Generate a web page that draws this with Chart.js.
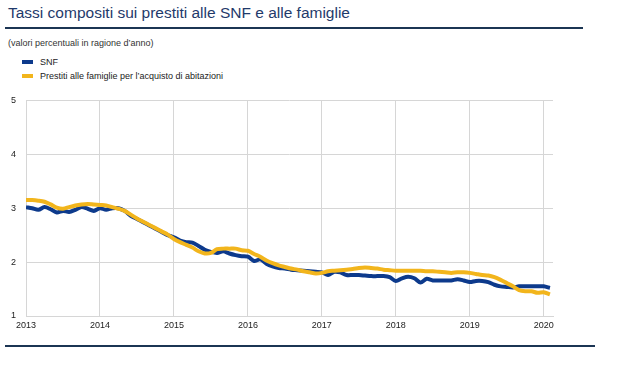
<!DOCTYPE html>
<html>
<head>
<meta charset="utf-8">
<script src="https://cdn.jsdelivr.net/npm/chart.js@4.4.1/dist/chart.umd.min.js"></script>
<style>
  html, body { margin: 0; padding: 0; background: #ffffff; }
  body { width: 636px; height: 367px; position: relative; overflow: hidden; font-family: "Liberation Sans", Arial, sans-serif; }
  #title { position: absolute; left: 8px; top: 4px; font-size: 15.5px; color: #1f3a6b; white-space: nowrap; }
  #rule1 { position: absolute; left: 5px; top: 27px; width: 578px; height: 2px; background: #1b3553; }
  #sub { position: absolute; left: 8px; top: 38px; font-size: 9px; color: #333; white-space: nowrap; }
  #legend { position: absolute; left: 22px; top: 56px; font-size: 9px; color: #222; }
  .li { height: 14px; line-height: 12px; white-space: nowrap; }
  .sw { display: inline-block; width: 11px; height: 4px; vertical-align: middle; margin-right: 7px; position: relative; top: -1px; }
  #wrap { position: absolute; left: 0; top: 85px; width: 600px; height: 250px; }
  #rule2 { position: absolute; left: 5px; top: 345px; width: 590px; height: 2px; background: #1b3553; }
</style>
</head>
<body>
<div id="title">Tassi compositi sui prestiti alle SNF e alle famiglie</div>
<div id="rule1"></div>
<div id="sub">(valori percentuali in ragione d’anno)</div>
<div id="legend"></div>
<div id="wrap"><canvas id="c"></canvas></div>
<div id="rule2"></div>
<script>
// Monthly observations, Jan 2013 .. Feb 2020
const startYear = 2013;
const yearLabels = ["2013","2014","2015","2016","2017","2018","2019","2020"];
const yTicks = [1, 2, 3, 4, 5];
const seriesNames = ["SNF", "Prestiti alle famiglie per l’acquisto di abitazioni"];

const snf = [
  3.02, 3.00, 2.97, 3.02, 2.98, 2.92, 2.95, 2.93, 2.97, 3.02, 2.99, 2.95,
  3.00, 2.97, 3.00, 3.00, 2.95, 2.86, 2.80, 2.74, 2.68, 2.62, 2.56, 2.50,
  2.46, 2.40, 2.37, 2.36, 2.30, 2.23, 2.19, 2.17, 2.20, 2.16, 2.13, 2.11,
  2.10, 2.02, 2.05, 1.97, 1.92, 1.89, 1.88, 1.86, 1.85, 1.84, 1.83, 1.82,
  1.81, 1.76, 1.82, 1.81, 1.76, 1.76, 1.76, 1.75, 1.74, 1.74, 1.74, 1.72,
  1.65, 1.70, 1.73, 1.70, 1.62, 1.69, 1.66, 1.66, 1.66, 1.66, 1.68, 1.66,
  1.63, 1.65, 1.65, 1.63, 1.58, 1.55, 1.54, 1.53, 1.55, 1.55, 1.55, 1.55,
  1.55, 1.52
];
const famiglie = [
  3.15, 3.15, 3.14, 3.12, 3.07, 3.01, 2.99, 3.02, 3.05, 3.07, 3.08, 3.07,
  3.06, 3.05, 3.02, 2.99, 2.95, 2.88, 2.81, 2.75, 2.69, 2.63, 2.57, 2.51,
  2.43, 2.37, 2.32, 2.27, 2.20, 2.16, 2.17, 2.24, 2.25, 2.25, 2.25, 2.22,
  2.21, 2.15, 2.10, 2.03, 1.98, 1.94, 1.91, 1.88, 1.86, 1.83, 1.81, 1.79,
  1.80, 1.83, 1.84, 1.85, 1.86, 1.87, 1.89, 1.90, 1.89, 1.88, 1.86, 1.85,
  1.84, 1.84, 1.84, 1.84, 1.84, 1.83, 1.83, 1.82, 1.81, 1.80, 1.81, 1.81,
  1.80, 1.78, 1.76, 1.75, 1.72, 1.67, 1.61, 1.55, 1.48, 1.46, 1.46, 1.43,
  1.44, 1.40
];
const colors = ["#0d3a8c", "#f2b51c"];

const toPoints = arr => arr.map((v, i) => ({ x: i, y: v }));

// HTML legend from series names/colors
const lg = document.getElementById('legend');
seriesNames.forEach((n, i) => {
  const d = document.createElement('div');
  d.className = 'li';
  d.innerHTML = '<span class="sw" style="background:' + colors[i] + '"></span>';
  d.appendChild(document.createTextNode(n));
  lg.appendChild(d);
});

new Chart(document.getElementById('c'), {
  type: 'line',
  data: {
    datasets: [
      { label: seriesNames[0], data: toPoints(snf), borderColor: colors[0], backgroundColor: colors[0], borderWidth: 4, pointRadius: 0, tension: 0.3, order: 2 },
      { label: seriesNames[1], data: toPoints(famiglie), borderColor: colors[1], backgroundColor: colors[1], borderWidth: 4, pointRadius: 0, tension: 0.3, order: 1 }
    ]
  },
  options: {
    responsive: true,
    maintainAspectRatio: false,
    animation: false,
    layout: { padding: { left: 0, right: 47, top: 10, bottom: 0 } },
    plugins: { legend: { display: false }, tooltip: { enabled: false } },
    scales: {
      x: {
        type: 'linear',
        min: 0, max: 85.5,
        afterBuildTicks: ax => { ax.ticks = yearLabels.map((_, i) => ({ value: i * 12 })); },
        afterFit: ax => { ax.height = 19; },
        ticks: {
          autoSkip: false, maxRotation: 0,
          color: '#222', font: { family: 'Liberation Sans', size: 9 }, padding: 4,
          callback: v => yearLabels[Math.round(v / 12)]
        },
        grid: { color: '#d6d6d6', lineWidth: 1, drawTicks: false },
        border: { color: '#d6d6d6' }
      },
      y: {
        min: 1, max: 5,
        afterBuildTicks: ax => { ax.ticks = yTicks.map(v => ({ value: v })); },
        afterFit: ax => { ax.width = 26; },
        ticks: { color: '#222', font: { family: 'Liberation Sans', size: 9 }, padding: 10 },
        grid: { color: '#d6d6d6', lineWidth: 1, drawTicks: false },
        border: { display: false }
      }
    }
  }
});
</script>
</body>
</html>
